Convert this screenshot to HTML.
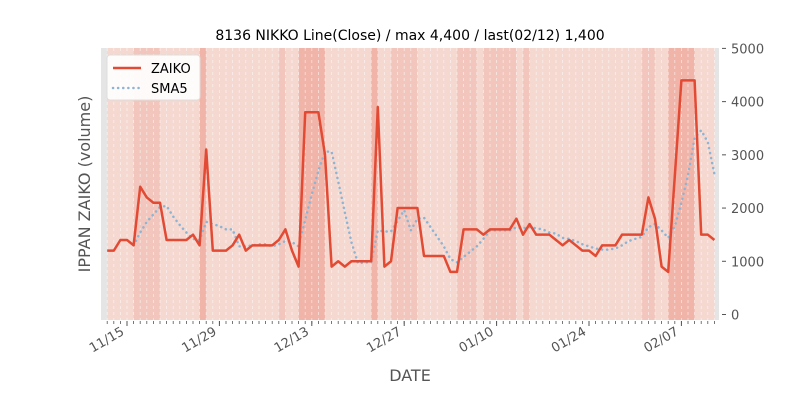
<!DOCTYPE html>
<html><head><meta charset="utf-8">
<style>
body{margin:0;background:#fff;}
svg{display:block;font-family:"DejaVu Sans","Liberation Sans",sans-serif;}
</style></head>
<body>
<svg id="chart" width="800" height="400" viewBox="0 0 800 400" xmlns="http://www.w3.org/2000/svg">
<text x="410" y="40" text-anchor="middle" font-size="14" fill="#000">8136 NIKKO Line(Close) / max 4,400 / last(02/12) 1,400</text>
<g id="bands"></g>
<g id="grid"></g>
<g id="series"></g>
<g id="yaxis"></g>
<g id="xaxis"></g>
<text transform="translate(90,184) rotate(-90)" text-anchor="middle" font-size="16" fill="#555">IPPAN ZAIKO (volume)</text>
<text x="410" y="381" text-anchor="middle" font-size="16" fill="#555">DATE</text>
<g>
<rect x="107" y="55" width="93" height="45" rx="3" fill="#fff" fill-opacity="0.9" stroke="#ddd"/>
<line x1="113" y1="68" x2="141" y2="68" stroke="#e24a33" stroke-width="2.5"/>
<text x="151" y="73" font-size="13">ZAIKO</text>
<line x1="113" y1="88" x2="141" y2="88" stroke="#8eb4d4" stroke-width="2.5" stroke-dasharray="0.1 5" stroke-linecap="round"/>
<text x="151" y="93" font-size="13">SMA5</text>
</g>
</svg>
<script>
const startDay = -3; // 11/12 relative to 11/15
const zaiko = [1200,1200,1400,1400,1300,2400,2200,2100,2100,1400,1400,1400,1400,1500,1300,3100,1200,1200,1200,1300,1500,1200,1300,1300,1300,1300,1400,1600,1200,900,3800,3800,3800,3000,900,1000,900,1000,1000,1000,1000,3900,900,1000,2000,2000,2000,2000,1100,1100,1100,1100,800,800,1600,1600,1600,1500,1600,1600,1600,1600,1800,1500,1700,1500,1500,1500,1400,1300,1400,1300,1200,1200,1100,1300,1300,1300,1500,1500,1500,1500,2200,1800,900,800,2600,4400,4400,4400,1500,1500,1400];
const bandLevels = [0,0,0,0,1,1,1,1,0,0,0,0,0,0,2,0,0,0,0,0,0,0,0,0,0,0,1,0,0,2,2,2,2,0,0,0,0,0,0,0,2,0,0,1,1,1,1,0,0,0,0,0,0,1,1,1,0,1,1,1,1,1,0,1,0,0,0,0,0,0,0,0,0,0,0,0,0,0,0,0,0,1,1,0,0,2,2,2,2,0,0,0];
const yTicks = [0,1000,2000,3000,4000,5000];
const xTickDays = [0,14,28,42,56,70,84];
const xTickLabels = ["11/15","11/29","12/13","12/27","01/10","01/24","02/07"];

const NS="http://www.w3.org/2000/svg";
const L=101,R=719,T=48,B=320;
const xOf=d=>127+6.6*d;
const yOf=v=>314.5-v*0.05322;
function mk(tag,attrs,parent){const e=document.createElementNS(NS,tag);for(const k in attrs)e.setAttribute(k,attrs[k]);parent.appendChild(e);return e;}
const bands=document.getElementById('bands'),grid=document.getElementById('grid'),series=document.getElementById('series'),yaxis=document.getElementById('yaxis'),xaxis=document.getElementById('xaxis');
const bg=mk('rect',{x:L,y:T,width:R-L,height:B-T,fill:'#e5e5e5'},bands);


const bandCols=['#f5d8d0','#f2c6bc','#f1b4a9'];
for(let i=0;i<bandLevels.length;i++){
  const x1=xOf(startDay+i),x2=xOf(startDay+i+1);
  const r=mk('rect',{x:x1,y:T,width:x2-x1+0.3,height:B-T,fill:bandCols[bandLevels[i]]},bands);
  
  
}
for(let d=startDay;d<=startDay+zaiko.length-1;d++){
  const g=mk('line',{x1:xOf(d),y1:T,x2:xOf(d),y2:B,stroke:'#fff','stroke-opacity':0.6,'stroke-width':0.8,'stroke-dasharray':'3 3'},grid);
  
  
}
const sma=[];
for(let i=4;i<zaiko.length;i++){let s=0;for(let j=i-4;j<=i;j++)s+=zaiko[j];sma.push([i,s/5]);}
const smaPath=mk('polyline',{points:sma.map(p=>xOf(startDay+p[0])+','+yOf(p[1])).join(' '),fill:'none',stroke:'#8eb4d4','stroke-width':2.5,'stroke-dasharray':'0.1 5','stroke-linecap':'round'},series);


const zl=mk('polyline',{points:zaiko.map((v,i)=>xOf(startDay+i)+','+yOf(v)).join(' '),fill:'none',stroke:'#e24a33','stroke-width':2.5,'stroke-linejoin':'round'},series);


yTicks.forEach(v=>{
  const y=yOf(v);
  const t=mk('line',{x1:R+3,y1:y,x2:R+7,y2:y,stroke:'#555'},yaxis);
  
  
  const tx=mk('text',{x:R+12,y:y+5,'font-size':13,fill:'#555'},yaxis);
  tx.textContent=v;
  
  
});
for(let d=-4;d<=startDay+zaiko.length;d++){
  const x=xOf(d);if(x<L||x>R)continue;
  const t=mk('line',{x1:x,y1:B+1,x2:x,y2:B+4,stroke:'#555','stroke-width':0.8},xaxis);
  
  
}
xTickDays.forEach((d,k)=>{
  const x=xOf(d);
  const t=mk('line',{x1:x,y1:B+1,x2:x,y2:B+6,stroke:'#555','stroke-width':1},xaxis);
  
  
  const tx=mk('text',{transform:'translate('+(x-2)+','+(B+14)+') rotate(-30)','text-anchor':'end','font-size':13,fill:'#555'},xaxis);
  tx.textContent=xTickLabels[k];
  
  
});
</script>
</body></html>
